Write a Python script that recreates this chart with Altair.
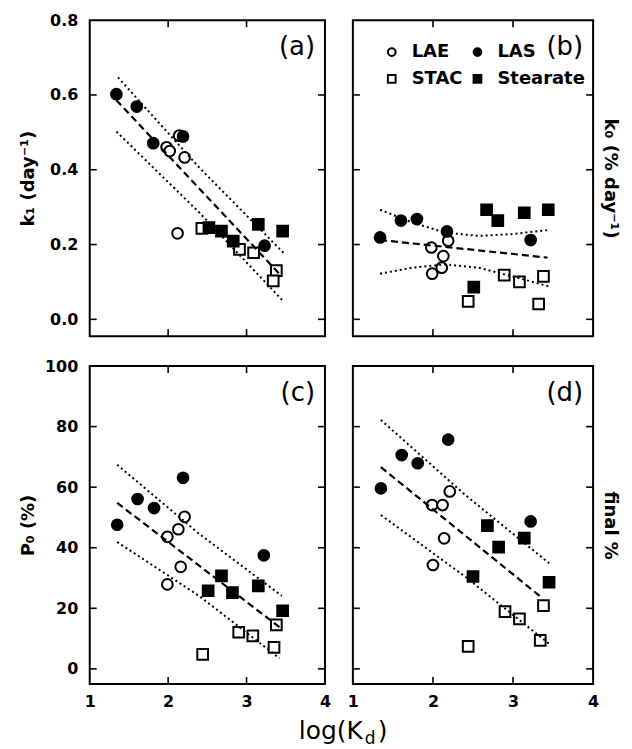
import altair as alt
import pandas as pd

# legend fills column by column: LAE, STAC | LAS, Stearate
SERIES = ["LAE", "STAC", "LAS", "Stearate"]
SHAPES = ["circle", "square", "circle", "square"]
FILLS = ["white", "white", "black", "black"]
STROKES = ["black", "black", "black", "black"]

# ---------------- panel (a): k1 (day^-1) ----------------
a_lae_x = [1.98, 2.02, 2.14, 2.21, 2.12]
a_lae_y = [0.460, 0.450, 0.491, 0.433, 0.230]
a_las_x = [1.34, 1.60, 1.81, 2.19, 3.23]
a_las_y = [0.602, 0.569, 0.471, 0.489, 0.197]
a_stac_x = [2.43, 2.91, 3.09, 3.38, 3.34]
a_stac_y = [0.243, 0.187, 0.178, 0.130, 0.103]
a_ste_x = [2.52, 2.68, 2.83, 3.15, 3.46]
a_ste_y = [0.245, 0.236, 0.209, 0.254, 0.236]
a_fit_x = [1.34, 3.43]
a_fit_y = [0.586, 0.119]
a_up_x = [1.36, 2.40, 3.47]
a_up_y = [0.647, 0.405, 0.178]
a_lo_x = [1.34, 2.40, 3.47]
a_lo_y = [0.502, 0.285, 0.048]

# ---------------- panel (b): k0 (% day^-1) ----------------
b_lae_x = [1.98, 2.19, 2.13, 2.11, 1.99]
b_lae_y = [0.192, 0.210, 0.169, 0.138, 0.122]
b_las_x = [1.34, 1.60, 1.80, 2.175, 3.22]
b_las_y = [0.219, 0.264, 0.268, 0.235, 0.212]
b_stac_x = [2.44, 2.89, 3.08, 3.38, 3.32]
b_stac_y = [0.048, 0.118, 0.100, 0.115, 0.041]
b_ste_x = [2.67, 2.81, 3.14, 3.44, 2.51]
b_ste_y = [0.293, 0.264, 0.285, 0.293, 0.086]
b_fit_x = [1.34, 3.43]
b_fit_y = [0.212, 0.165]
b_up_x = [1.34, 1.74, 2.15, 2.57, 2.99, 3.45]
b_up_y = [0.293, 0.259, 0.232, 0.223, 0.228, 0.239]
b_lo_x = [1.34, 1.74, 2.15, 2.57, 2.99, 3.45]
b_lo_y = [0.122, 0.138, 0.147, 0.138, 0.115, 0.088]

# ---------------- panel (c): P0 (%) ----------------
c_lae_x = [1.99, 2.13, 2.21, 2.16, 1.99]
c_lae_y = [43.6, 46.1, 50.2, 33.7, 27.9]
c_las_x = [1.35, 1.61, 1.82, 2.19, 3.22]
c_las_y = [47.6, 56.1, 53.1, 63.1, 37.5]
c_stac_x = [2.44, 2.90, 3.08, 3.38, 3.35]
c_stac_y = [4.8, 12.1, 10.9, 14.5, 7.1]
c_ste_x = [2.51, 2.68, 2.82, 3.15, 3.46]
c_ste_y = [25.8, 30.7, 25.2, 27.4, 19.2]
c_fit_x = [1.35, 3.44]
c_fit_y = [54.8, 13.4]
c_up_x = [1.35, 2.40, 3.45]
c_up_y = [67.4, 44.5, 24.1]
c_lo_x = [1.35, 2.40, 3.42]
c_lo_y = [41.9, 24.0, 3.5]

# ---------------- panel (d): final % ----------------
d_lae_x = [1.99, 2.12, 2.21, 2.14, 2.00]
d_lae_y = [54.1, 54.1, 58.6, 43.1, 34.3]
d_las_x = [1.35, 1.61, 1.81, 2.19, 3.22]
d_las_y = [59.6, 70.6, 67.9, 75.7, 48.7]
d_stac_x = [2.44, 2.90, 3.08, 3.38, 3.34]
d_stac_y = [7.4, 18.9, 16.5, 20.9, 9.4]
d_ste_x = [2.68, 2.82, 3.14, 2.50, 3.45]
d_ste_y = [47.3, 40.2, 43.2, 30.5, 28.6]
d_fit_x = [1.35, 3.36]
d_fit_y = [66.6, 23.5]
d_up_x = [1.35, 2.40, 3.45]
d_up_y = [82.2, 57.5, 34.9]
d_lo_x = [1.35, 2.40, 3.45]
d_lo_y = [50.8, 30.5, 8.3]

X_TICKS = [1, 2, 3, 4]
K_TICKS = [0.0, 0.2, 0.4, 0.6, 0.8]
P_TICKS = [0, 20, 40, 60, 80, 100]


def points_df(groups):
    rows = []
    for name, xs, ys in groups:
        for x, y in zip(xs, ys):
            rows.append({"series": name, "x": x, "y": y})
    return pd.DataFrame(rows)


def lines_df(groups):
    rows = []
    for kind, xs, ys in groups:
        for x, y in zip(xs, ys):
            rows.append({"kind": kind, "x": x, "y": y})
    return pd.DataFrame(rows)


LEG = alt.Legend(
    title=None, orient="none", legendX=294, legendY=23, columns=2,
    symbolSize=60, symbolStrokeWidth=2,
    labelFont="DejaVu Sans", labelFontWeight="bold", labelFontSize=18,
    labelColor="black", labelOffset=11, columnPadding=6, rowPadding=9,
    padding=0,
)

TICK = 7


def make_panel(pts, fit, band, W, H, ydom, yticks, yfmt, ytitle, side,
               show_x, label, extra=None):
    xs = alt.Scale(domain=[1, 4], nice=False, zero=False)
    ys = alt.Scale(domain=ydom, nice=False, zero=False)
    if show_x:
        xaxis = alt.Axis(values=X_TICKS, format="d", title=None, ticks=False,
                         domain=False, grid=False, labelFlush=False,
                         labelPadding=10)
    else:
        xaxis = None
    if side == "left":
        yaxis = alt.Axis(values=yticks, format=yfmt, title=ytitle,
                         orient="left", ticks=False, domain=False, grid=False,
                         labelPadding=12, titleX=-52, titleY=H / 2)
    else:
        yaxis = alt.Axis(values=yticks, title=ytitle, orient="right",
                         labels=False, ticks=False, domain=False, grid=False,
                         titlePadding=7)

    pl = alt.Chart(pts).mark_point(
        filled=True, size=115, strokeWidth=2, opacity=1
    ).encode(
        x=alt.X("x:Q", scale=xs, axis=xaxis),
        y=alt.Y("y:Q", scale=ys, axis=yaxis),
        shape=alt.Shape("series:N", scale=alt.Scale(domain=SERIES, range=SHAPES), legend=LEG),
        fill=alt.Fill("series:N", scale=alt.Scale(domain=SERIES, range=FILLS), legend=LEG),
        stroke=alt.Stroke("series:N", scale=alt.Scale(domain=SERIES, range=STROKES), legend=LEG),
    )
    fl = alt.Chart(fit).mark_line(color="black", strokeWidth=2.2, strokeDash=[7, 4]).encode(
        x=alt.X("x:Q", scale=xs), y=alt.Y("y:Q", scale=ys)
    )
    bl = alt.Chart(band).mark_line(color="black", strokeWidth=2, strokeDash=[2, 3]).encode(
        x=alt.X("x:Q", scale=xs), y=alt.Y("y:Q", scale=ys), detail="kind:N"
    )
    xt = alt.Chart(pd.DataFrame({"x": X_TICKS[1:-1]}))
    yt = alt.Chart(pd.DataFrame({"y": yticks[:-1]}))
    rule = dict(color="black", strokeWidth=1.6)
    t_top = xt.mark_rule(**rule).encode(x=alt.X("x:Q", scale=xs), y=alt.value(0), y2=alt.value(TICK))
    t_bot = xt.mark_rule(**rule).encode(x=alt.X("x:Q", scale=xs), y=alt.value(H), y2=alt.value(H - TICK))
    t_l = yt.mark_rule(**rule).encode(y=alt.Y("y:Q", scale=ys), x=alt.value(0), x2=alt.value(TICK))
    t_r = yt.mark_rule(**rule).encode(y=alt.Y("y:Q", scale=ys), x=alt.value(W - TICK), x2=alt.value(W))
    lab = alt.Chart(pd.DataFrame({"t": [label]})).mark_text(
        align="right", baseline="middle", fontSize=26, font="DejaVu Sans", color="black"
    ).encode(text="t:N", x=alt.value(W - 10), y=alt.value(27))
    layers = [pl, fl, bl, t_top, t_bot, t_l, t_r, lab]
    if extra:
        layers += extra
    return alt.layer(*layers).properties(width=W, height=H)


def grp(lae_x, lae_y, las_x, las_y, stac_x, stac_y, ste_x, ste_y):
    return points_df([("LAE", lae_x, lae_y), ("LAS", las_x, las_y),
                      ("STAC", stac_x, stac_y), ("Stearate", ste_x, ste_y)])


WL, WR, HT, HB = 236, 241, 317, 319
KDOM = [-0.045, 0.8]
PDOM = [-5, 100]

# x-axis title pieces: log(K_d)
xt1 = alt.Chart(pd.DataFrame({"t": ["log(K"]})).mark_text(
    align="right", baseline="alphabetic", fontSize=25, font="DejaVu Sans", color="black"
).encode(text="t:N", x=alt.value(274), y=alt.value(374))
xt2 = alt.Chart(pd.DataFrame({"t": ["d"]})).mark_text(
    align="left", baseline="alphabetic", fontSize=17, font="DejaVu Sans", color="black"
).encode(text="t:N", x=alt.value(276), y=alt.value(379))
xt3 = alt.Chart(pd.DataFrame({"t": [")"]})).mark_text(
    align="left", baseline="alphabetic", fontSize=25, font="DejaVu Sans", color="black"
).encode(text="t:N", x=alt.value(289), y=alt.value(374))

pa = make_panel(grp(a_lae_x, a_lae_y, a_las_x, a_las_y, a_stac_x, a_stac_y, a_ste_x, a_ste_y),
                lines_df([("fit", a_fit_x, a_fit_y)]),
                lines_df([("upper", a_up_x, a_up_y), ("lower", a_lo_x, a_lo_y)]),
                WL, HT, KDOM, K_TICKS, ".1f", "k\u2081 (day\u207b\u00b9)", "left", False, "(a)")
pb = make_panel(grp(b_lae_x, b_lae_y, b_las_x, b_las_y, b_stac_x, b_stac_y, b_ste_x, b_ste_y),
                lines_df([("fit", b_fit_x, b_fit_y)]),
                lines_df([("upper", b_up_x, b_up_y), ("lower", b_lo_x, b_lo_y)]),
                WR, HT, KDOM, K_TICKS, ".1f", "k\u2080 (% day\u207b\u00b9)", "right", False, "(b)")
pc = make_panel(grp(c_lae_x, c_lae_y, c_las_x, c_las_y, c_stac_x, c_stac_y, c_ste_x, c_ste_y),
                lines_df([("fit", c_fit_x, c_fit_y)]),
                lines_df([("upper", c_up_x, c_up_y), ("lower", c_lo_x, c_lo_y)]),
                WL, HB, PDOM, P_TICKS, "d", "P\u2080 (%)", "left", True, "(c)",
                extra=[xt1, xt2, xt3])
pd_ = make_panel(grp(d_lae_x, d_lae_y, d_las_x, d_las_y, d_stac_x, d_stac_y, d_ste_x, d_ste_y),
                 lines_df([("fit", d_fit_x, d_fit_y)]),
                 lines_df([("upper", d_up_x, d_up_y), ("lower", d_lo_x, d_lo_y)]),
                 WR, HB, PDOM, P_TICKS, "d", "final %", "right", True, "(d)")

chart = alt.concat(
    pa, pb, pc, pd_, columns=2, spacing={"row": 30, "column": 28}, bounds="flush"
).configure_view(
    stroke="black", strokeWidth=2
).configure_axis(
    labelFont="DejaVu Sans", labelFontWeight="bold", labelFontSize=16, labelColor="black",
    titleFont="DejaVu Sans", titleFontWeight="bold", titleFontSize=18, titleColor="black",
).properties(
    padding={"left": 11, "top": 2, "right": 5, "bottom": 2},
    background="white",
)

chart.save("out.html", embed_options={"renderer": "svg", "actions": False})
